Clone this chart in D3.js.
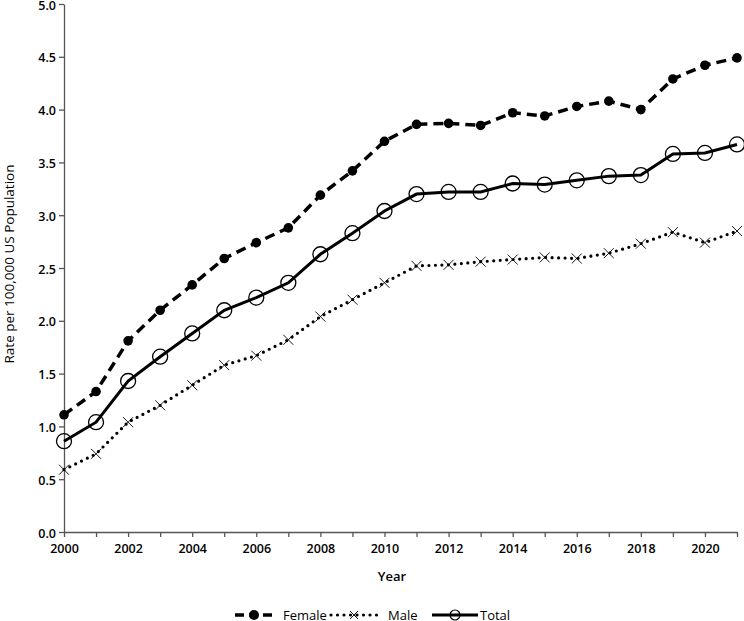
<!DOCTYPE html>
<html>
<head>
<meta charset="utf-8">
<script src="https://cdn.jsdelivr.net/npm/d3@7"></script>
<style>
  body { margin: 0; background: #fff; }
  text { font-family: "Open Sans", sans-serif; }
</style>
</head>
<body>
<script>
var years = [2000, 2001, 2002, 2003, 2004, 2005, 2006, 2007, 2008, 2009, 2010,
             2011, 2012, 2013, 2014, 2015, 2016, 2017, 2018, 2019, 2020, 2021];
var female = [1.11, 1.33, 1.81, 2.10, 2.34, 2.59, 2.74, 2.88, 3.19, 3.42, 3.70,
              3.86, 3.87, 3.85, 3.97, 3.94, 4.03, 4.08, 4.00, 4.29, 4.42, 4.49];
var male = [0.59, 0.74, 1.04, 1.20, 1.39, 1.58, 1.67, 1.82, 2.04, 2.20, 2.36,
            2.52, 2.53, 2.56, 2.58, 2.60, 2.59, 2.64, 2.73, 2.84, 2.74, 2.85];
var total = [0.86, 1.04, 1.43, 1.66, 1.88, 2.10, 2.22, 2.36, 2.63, 2.83, 3.04,
             3.20, 3.22, 3.22, 3.30, 3.29, 3.33, 3.37, 3.38, 3.58, 3.59, 3.67];
var yTicks = [0, 0.5, 1, 1.5, 2, 2.5, 3, 3.5, 4, 4.5, 5];
var xLabelYears = [2000, 2002, 2004, 2006, 2008, 2010, 2012, 2014, 2016, 2018, 2020];

var w = 744, h = 621;
var plotLeft = 64, plotRight = 737, plotTop = 4, plotBottom = 532;

var svg = d3.select("body").append("svg")
    .attr("width", w)
    .attr("height", h);

var x = d3.scaleLinear().domain([2000, 2021]).range([plotLeft, plotRight]);
var y = d3.scaleLinear().domain([0, 5]).range([plotBottom, plotTop]);

// Axes
var xAxis = d3.axisBottom(x)
    .tickValues(years)
    .tickSize(5)
    .tickSizeOuter(0)
    .tickFormat(function (d) { return xLabelYears.indexOf(d) >= 0 ? d : ""; });
var gx = svg.append("g")
    .attr("transform", "translate(0," + plotBottom + ")")
    .call(xAxis);

var yAxis = d3.axisLeft(y)
    .tickValues(yTicks)
    .tickSize(5)
    .tickSizeOuter(0)
    .tickFormat(d3.format(".1f"));
var gy = svg.append("g")
    .attr("transform", "translate(" + plotLeft + ",0)")
    .call(yAxis);

[gx, gy].forEach(function (g) {
    g.select(".domain").attr("stroke", "#555").attr("stroke-width", 1.3);
    g.selectAll(".tick line").attr("stroke", "#555").attr("stroke-width", 1.3);
    g.selectAll(".tick text")
        .attr("font-family", "Open Sans")
        .attr("font-size", "12.5px")
        .attr("font-weight", 600)
        .attr("fill", "#000");
});
gx.selectAll(".tick text").attr("dy", "1.05em");
gy.selectAll(".tick text").attr("x", -8).attr("dy", "0.4em");

// Axis titles
svg.append("text")
    .attr("x", 392)
    .attr("y", 581)
    .attr("text-anchor", "middle")
    .attr("font-size", "13px")
    .attr("font-weight", 600)
    .text("Year");

svg.append("text")
    .attr("transform", "translate(14,264) rotate(-90)")
    .attr("text-anchor", "middle")
    .attr("font-size", "13.5px")
    .text("Rate per 100,000 US Population");

// Series
var line = d3.line()
    .x(function (d, i) { return x(years[i]); })
    .y(function (d) { return y(d); });

svg.append("path")
    .datum(female)
    .attr("d", line)
    .attr("fill", "none")
    .attr("stroke", "#000")
    .attr("stroke-width", 3.5)
    .attr("stroke-dasharray", "10,6");

svg.append("path")
    .datum(male)
    .attr("d", line)
    .attr("fill", "none")
    .attr("stroke", "#000")
    .attr("stroke-width", 3.2)
    .attr("stroke-linecap", "round")
    .attr("stroke-dasharray", "0,6.5");

svg.append("path")
    .datum(total)
    .attr("d", line)
    .attr("fill", "none")
    .attr("stroke", "#000")
    .attr("stroke-width", 3);

// Markers
svg.selectAll(".fem")
    .data(female)
    .enter()
    .append("circle")
    .attr("class", "fem")
    .attr("cx", function (d, i) { return x(years[i]); })
    .attr("cy", function (d) { return y(d); })
    .attr("r", 4.8)
    .attr("fill", "#000");

var xr = 5;
svg.selectAll(".mal")
    .data(male)
    .enter()
    .append("path")
    .attr("class", "mal")
    .attr("d", function (d, i) {
        var cx = x(years[i]), cy = y(d);
        return "M" + (cx - xr) + "," + (cy - xr) + "L" + (cx + xr) + "," + (cy + xr) +
               "M" + (cx - xr) + "," + (cy + xr) + "L" + (cx + xr) + "," + (cy - xr);
    })
    .attr("stroke", "#000")
    .attr("stroke-width", 0.9)
    .attr("fill", "none");

svg.selectAll(".tot")
    .data(total)
    .enter()
    .append("circle")
    .attr("class", "tot")
    .attr("cx", function (d, i) { return x(years[i]); })
    .attr("cy", function (d) { return y(d); })
    .attr("r", 7.5)
    .attr("fill", "none")
    .attr("stroke", "#000")
    .attr("stroke-width", 1.3);

// Legend
var ly = 615;
var legend = svg.append("g");

legend.append("line")
    .attr("x1", 235).attr("x2", 273).attr("y1", ly).attr("y2", ly)
    .attr("stroke", "#000").attr("stroke-width", 3.5)
    .attr("stroke-dasharray", "9,5");
legend.append("circle")
    .attr("cx", 254).attr("cy", ly).attr("r", 5).attr("fill", "#000");
legend.append("text")
    .attr("x", 283).attr("y", ly + 4.5)
    .attr("font-size", "13px").text("Female");

legend.append("line")
    .attr("x1", 331).attr("x2", 378).attr("y1", ly).attr("y2", ly)
    .attr("stroke", "#000").attr("stroke-width", 3.2)
    .attr("stroke-linecap", "round")
    .attr("stroke-dasharray", "0,6.5");
legend.append("path")
    .attr("d", "M" + (354 - 4) + "," + (ly - 4) + "L" + (354 + 4) + "," + (ly + 4) +
               "M" + (354 - 4) + "," + (ly + 4) + "L" + (354 + 4) + "," + (ly - 4))
    .attr("stroke", "#000").attr("stroke-width", 0.9);
legend.append("text")
    .attr("x", 388).attr("y", ly + 4.5)
    .attr("font-size", "13px").text("Male");

legend.append("line")
    .attr("x1", 432).attr("x2", 478).attr("y1", ly).attr("y2", ly)
    .attr("stroke", "#000").attr("stroke-width", 3);
legend.append("circle")
    .attr("cx", 455).attr("cy", ly).attr("r", 5)
    .attr("fill", "none").attr("stroke", "#000").attr("stroke-width", 1.2);
legend.append("text")
    .attr("x", 480).attr("y", ly + 4.5)
    .attr("font-size", "13px").text("Total");
</script>
</body>
</html>
